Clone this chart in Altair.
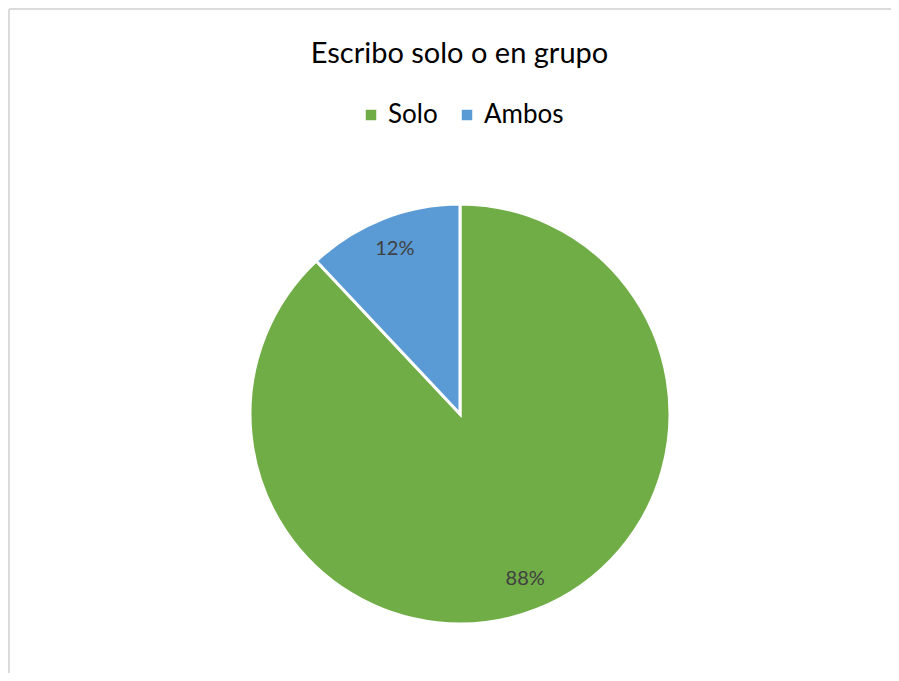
import altair as alt
import pandas as pd

categories = ["Solo", "Ambos"]
values = [88, 12]
labels = ["88%", "12%"]
order = [0, 1]
colors = ["#70AD47", "#5B9BD5"]
title_text = "Escribo solo o en grupo"

df = pd.DataFrame({"categoria": categories, "valor": values, "etiqueta": labels, "orden": order})

FONT = "Lato"
cx, cy = 452, 406

base = alt.Chart(df).encode(
    theta=alt.Theta("valor:Q", stack=True),
    order=alt.Order("orden:Q"),
)

pie = base.mark_arc(outerRadius=210, stroke="white", strokeWidth=3).encode(
    color=alt.Color(
        "categoria:N",
        scale=alt.Scale(domain=categories, range=colors),
        sort=categories,
        legend=alt.Legend(
            orient="none",
            legendX=350,
            legendY=94,
            direction="horizontal",
            title=None,
            symbolType="square",
            symbolSize=110,
            symbolStrokeWidth=0,
            labelFontSize=26,
            labelFont=FONT,
            labelColor="#000000",
            columnPadding=16,
            labelOffset=4,
        ),
    ),
    x=alt.value(cx),
    y=alt.value(cy),
)

text = base.mark_text(radius=177, fontSize=20, color="#404040", font=FONT).encode(
    text="etiqueta:N",
    x=alt.value(cx),
    y=alt.value(cy),
)

border_top = alt.Chart(df).mark_rule(color="#D9D9D9", strokeWidth=1.5).encode(
    x=alt.value(1), x2=alt.value(883), y=alt.value(1)
)
border_left = alt.Chart(df).mark_rule(color="#D9D9D9", strokeWidth=1.5).encode(
    x=alt.value(1), y=alt.value(1), y2=alt.value(665)
)

chart = alt.layer(border_top, border_left, pie, text).properties(
    width=883,
    height=665,
    autosize=alt.AutoSizeParams(type="none"),
    padding=0,
    title=alt.TitleParams(
        title_text,
        fontSize=29,
        font=FONT,
        fontWeight="normal",
        color="#000000",
        anchor="middle",
        baseline="alphabetic",
        dx=10,
        dy=88,
    ),
).configure_view(stroke=None)

chart.save("out.html", embed_options={"renderer": "svg", "actions": False})
